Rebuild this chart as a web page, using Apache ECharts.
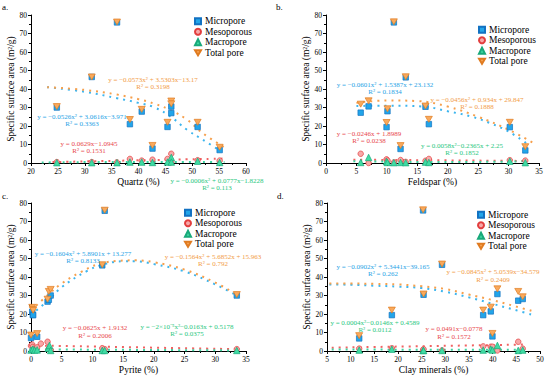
<!DOCTYPE html>
<html><head><meta charset="utf-8">
<script src="https://cdn.jsdelivr.net/npm/echarts@6/dist/echarts.min.js"></script>
<style>html,body{margin:0;padding:0;background:#fff}#c{width:550px;height:382px}</style>
</head><body><div id="c"></div>
<script>
// ---------- Panel a : Quartz ----------
const quartzX   = [24.8, 31.3, 36.0, 38.4, 40.6, 42.6, 45.4, 46.1, 46.1, 51.0, 55.1];
const quartzMicro = [30.0, 46.5, 76.0, 21.0, 27.8, 7.8, 19.5, 30.5, 27.0, 19.5, 7.0];
const quartzMeso  = [0.5, 0.5, 0.3, 2.2, 1.3, 1.8, 2.2, 5.0, 0.5, 1.5, 1.3];
const quartzMacro = [0.2, 0.2, 0.2, 0.5, 0.5, 0.3, 0.5, 3.0, 0.5, 1.0, 0.3];
const quartzTotal = [30.5, 46.5, 76.2, 23.5, 29.0, 9.5, 22.0, 33.5, 32.0, 22.0, 8.5];
const quartzFitMicroX = [23, 30, 36, 40, 43, 46, 49, 52, 55];
const quartzFitMicroY = [41, 38.5, 35, 32.5, 30, 25, 18, 12.5, 7];
const quartzFitTotalX = [23, 30, 36, 40, 43, 46, 49, 52, 56];
const quartzFitTotalY = [41, 39.5, 37, 34.5, 32, 28.5, 23.5, 16, 8.5];
const quartzFitMesoX = [24, 56];
const quartzFitMesoY = [0.5, 2.4];
const quartzFitMacroX = [22, 40, 56];
const quartzFitMacroY = [0.3, 0.6, 0.6];

// ---------- Panel b : Feldspar ----------
const feldX     = [5.7, 7.0, 9.95, 10.1, 11.15, 12.25, 13.1, 16.35, 16.9, 30.2, 32.75];
const feldMicro = [27.2, 30.6, 19.4, 28.0, 76.0, 7.6, 46.3, 30.4, 21.0, 19.4, 6.8];
const feldMeso  = [5.0, 0.0, 2.0, 1.3, 0.3, 1.6, 0.6, 1.2, 2.2, 1.5, 1.3];
const feldMacro = [0.3, 3.0, 0.8, 0.3, 0.2, 0.3, 0.2, 0.5, 0.3, 1.0, 0.2];
const feldTotal = [31.8, 33.6, 21.9, 29.3, 76.3, 9.4, 46.6, 30.8, 23.6, 22.0, 8.8];
const feldFitMicroX = [5, 10, 16, 20, 24, 27, 30, 33];
const feldFitMicroY = [30.8, 31, 30.5, 28, 25, 21.5, 17, 10.5];
const feldFitTotalX = [5, 10, 15, 20, 25, 30, 34];
const feldFitTotalY = [32.5, 33.8, 33.5, 30.5, 25, 18, 11];
const feldFitMesoX = [4.5, 33];
const feldFitMesoY = [1.8, 1.1];
const feldFitMacroX = [4.5, 15, 25, 33];
const feldFitMacroY = [1.0, 0.6, 0.6, 1.0];

// ---------- Panel c : Pyrite ----------
const pyrX     = [0.0, 0.2, 0.3, 0.35, 1.0, 2.7, 2.9, 3.2, 11.6, 12.0, 33.5];
const pyrMicro = [7.0, 21.2, 19.5, 19.4, 7.7, 26.7, 27.7, 30.0, 46.3, 75.8, 30.0];
const pyrTotal = [8.6, 23.6, 22.5, 22.0, 9.4, 28.0, 32.2, 33.3, 46.6, 76.1, 30.5];
const pyrMesoX = [0.0, 0.2, 0.3, 0.5, 1.0, 1.6, 2.7, 2.9, 3.2, 11.6, 12.0, 33.5];
const pyrMeso  = [2.8, 3.5, 2.2, 1.2, 2.0, 4.0, 5.0, 1.2, 0.5, 1.5, 1.0, 1.0];
const pyrMacroX = [0.0, 0.3, 0.6, 1.0, 2.8, 3.0, 3.2, 11.6, 12.0, 33.5];
const pyrMacro  = [0.5, 1.0, 0.5, 0.6, 1.5, 3.0, 0.3, 0.3, 0.3, 0.3];
const pyrFitMicroX = [0, 3, 5, 9, 12, 15, 17, 20, 25, 30, 33.5];
const pyrFitMicroY = [19.5, 28, 34.5, 43, 47, 48.5, 48.5, 47, 43, 36, 30];
const pyrFitTotalX = [0, 3, 5, 8, 11, 14, 17, 20, 25, 30, 33.5];
const pyrFitTotalY = [22, 31, 36.5, 42.5, 47, 48.7, 49, 48, 44, 37, 30.5];
const pyrFitMesoX = [0, 33.5];
const pyrFitMesoY = [3.0, 1.0];
const pyrFitMacroX = [0, 33.5];
const pyrFitMacroY = [0.9, 0.3];

// ---------- Panel d : Clay minerals ----------
const clayX     = [11.8, 18.7, 25.3, 25.4, 29.3, 38.0, 39.6, 39.95, 41.0, 45.4, 46.35];
const clayMicro = [6.8, 19.4, 76.0, 30.4, 46.6, 19.4, 21.4, 7.9, 30.8, 27.2, 28.1];
const clayMeso  = [1.3, 1.5, 0.5, 1.0, 0.3, 2.5, 2.3, 2.3, 0.3, 5.0, 1.3];
const clayMacro = [0.5, 1.0, 0.3, 0.3, 0.3, 0.5, 1.0, 0.5, 3.0, 0.3, 0.5];
const clayTotal = [8.3, 22.1, 76.3, 30.8, 47.0, 22.1, 23.7, 9.5, 33.6, 32.2, 29.3];
const clayFitMicroX = [5.5, 10, 15, 20, 25, 30, 35, 40, 45, 48.5];
const clayFitMicroY = [36, 35.8, 35.3, 34.8, 34, 32, 29, 25.5, 22, 19.5];
const clayFitTotalX = [5.5, 10, 15, 20, 25, 30, 35, 40, 45, 48.5];
const clayFitTotalY = [36.5, 36.5, 36.3, 36, 35, 33.5, 30.5, 27.5, 24, 21.5];
const clayFitMesoX = [6, 47];
const clayFitMesoY = [1.8, 3.5];
const clayFitMacroX = [6, 47];
const clayFitMacroY = [0.8, 0.6];

const legendNames = ['Micropore', 'Mesoporous', 'Macropore', 'Total pore'];
const yTicks = {min: 0, max: 80, interval: 10};

// ---------- styling ----------
const SERIF = 'Liberation Serif, Times New Roman, serif';
const C = {
  micro: {fill: '#22A5E9', stroke: '#1272C2', line: '#3DB5EE', text: '#1FA3E6'},
  meso:  {fill: '#F7A8A8', stroke: '#E23E3E', line: '#F06262', text: '#E8474C'},
  macro: {fill: '#40DBA3', stroke: '#18A97A', line: '#3CD3A0', text: '#27C77E'},
  total: {fill: '#F9A95C', stroke: '#E07B20', line: '#F6A04D', text: '#F29B45'}
};
const INV_TRI = 'path://M0,0L10,0L5,8.66Z';
const ICONS = {'Micropore': 'rect', 'Mesoporous': 'circle', 'Macropore': 'triangle', 'Total pore': INV_TRI};

const zip = (xs, ys) => xs.map((x, i) => [x, ys[i]]);

const grids = [
  {left: 31, top: 15, width: 215, height: 148},
  {left: 326, top: 15, width: 213, height: 148},
  {left: 31, top: 203, width: 215, height: 148},
  {left: 327, top: 203, width: 213, height: 148}
];
const xDefs = [
  {min: 20, max: 60, interval: 5, name: 'Quartz (%)'},
  {min: 0, max: 35, interval: 5, name: 'Feldspar (%)'},
  {min: 0, max: 35, interval: 5, name: 'Pyrite (%)'},
  {min: 5, max: 50, interval: 5, name: 'Clay minerals (%)'}
];

const axisCommon = {
  axisLine: {show: true, onZero: false, lineStyle: {color: '#000', width: 1}},
  axisTick: {show: true, inside: false, length: 3, lineStyle: {color: '#000'}},
  minorTick: {show: true, splitNumber: 2, length: 2, lineStyle: {color: '#000'}},
  splitLine: {show: false},
  axisLabel: {color: '#000', fontFamily: SERIF, fontSize: 7.5, margin: 4},
  nameTextStyle: {color: '#000', fontFamily: SERIF, fontSize: 9.5},
  nameLocation: 'middle'
};

const xAxis = xDefs.map((d, i) => Object.assign({}, axisCommon, {
  type: 'value', gridIndex: i, min: d.min, max: d.max, interval: d.interval,
  name: d.name, nameGap: 14
}));
const yAxis = grids.map((g, i) => Object.assign({}, axisCommon, {
  type: 'value', gridIndex: i, min: yTicks.min, max: yTicks.max, interval: yTicks.interval,
  name: 'Specific surface area (m²/g)', nameGap: 12,
  nameTextStyle: {color: '#000', fontFamily: SERIF, fontSize: 9.5}
}));

function scat(name, i, data, symbol, col, size) {
  return {
    type: 'scatter', name, xAxisIndex: i, yAxisIndex: i, data,
    symbol, symbolSize: size,
    itemStyle: {color: col.fill, borderColor: col.stroke, borderWidth: 0.7, opacity: 1},
    z: 3
  };
}
function fit(i, xs, ys, col, id) {
  return {
    type: 'line', name: id, xAxisIndex: i, yAxisIndex: i, data: zip(xs, ys),
    smooth: 0.4, showSymbol: false, symbol: 'none', silent: true,
    lineStyle: {color: col.line, width: 2, type: [2, 5]}, z: 2
  };
}

const panels = [
  {x: quartzX, micro: quartzMicro, total: quartzTotal, mesoX: quartzX, meso: quartzMeso, macroX: quartzX, macro: quartzMacro,
   fits: [[quartzFitMicroX, quartzFitMicroY, C.micro], [quartzFitTotalX, quartzFitTotalY, C.total], [quartzFitMesoX, quartzFitMesoY, C.meso], [quartzFitMacroX, quartzFitMacroY, C.macro]]},
  {x: feldX, micro: feldMicro, total: feldTotal, mesoX: feldX, meso: feldMeso, macroX: feldX, macro: feldMacro,
   fits: [[feldFitMicroX, feldFitMicroY, C.micro], [feldFitTotalX, feldFitTotalY, C.total], [feldFitMesoX, feldFitMesoY, C.meso], [feldFitMacroX, feldFitMacroY, C.macro]]},
  {x: pyrX, micro: pyrMicro, total: pyrTotal, mesoX: pyrMesoX, meso: pyrMeso, macroX: pyrMacroX, macro: pyrMacro,
   fits: [[pyrFitMicroX, pyrFitMicroY, C.micro], [pyrFitTotalX, pyrFitTotalY, C.total], [pyrFitMesoX, pyrFitMesoY, C.meso], [pyrFitMacroX, pyrFitMacroY, C.macro]]},
  {x: clayX, micro: clayMicro, total: clayTotal, mesoX: clayX, meso: clayMeso, macroX: clayX, macro: clayMacro,
   fits: [[clayFitMicroX, clayFitMicroY, C.micro], [clayFitTotalX, clayFitTotalY, C.total], [clayFitMesoX, clayFitMesoY, C.meso], [clayFitMacroX, clayFitMacroY, C.macro]]}
];

const series = [];
panels.forEach((p, i) => {
  p.fits.forEach((f, k) => series.push(fit(i, f[0], f[1], f[2], 'fit' + i + '_' + k)));
  series.push(scat('Micropore', i, zip(p.x, p.micro), 'rect', C.micro, 5.5));
  series.push(scat('Mesoporous', i, zip(p.mesoX, p.meso), 'circle', C.meso, 5.5));
  series.push(scat('Macropore', i, zip(p.macroX, p.macro), 'triangle', C.macro, 6.5));
  series.push(scat('Total pore', i, zip(p.x, p.total), INV_TRI, C.total, [7, 6]));
});

const legendPos = [[194, 16], [478, 24.5], [184, 207.5], [477, 209.5]];
const legend = legendPos.map(p => ({
  data: legendNames.map(n => ({name: n, icon: ICONS[n]})),
  orient: 'vertical', left: p[0], top: p[1],
  itemWidth: 6, itemHeight: 6, itemGap: 0, padding: 0, selectedMode: false,
  textStyle: {fontFamily: SERIF, fontSize: 9.5, color: '#000', lineHeight: 10.5, padding: [0, 0, 0, -1]}
}));

// equation annotations: [text, cx, cy, colour]
const eqs = [
  ['y = −0.0573x² + 3.5303x−13.17', 153, 80, C.total.text], ['R² = 0.3198', 153, 87, C.total.text],
  ['y = −0.0526x² + 3.0616x−3.971', 82, 117, C.micro.text], ['R² = 0.3363', 82, 124, C.micro.text],
  ['y = 0.0629x−1.0945', 89, 144, C.meso.text], ['R² = 0.1531', 89, 151, C.meso.text],
  ['y = −0.0006x² + 0.0777x−1.8228', 217, 180.5, C.macro.text], ['R² = 0.113', 217, 187.5, C.macro.text],

  ['y = −0.0601x² + 1.5387x + 23.132', 385, 84.5, C.micro.text], ['R² = 0.1834', 385, 91.5, C.micro.text],
  ['y = −0.0456x² + 0.934x + 29.847', 477, 99.5, C.total.text], ['R² = 0.1888', 477, 106.5, C.total.text],
  ['y = −0.0246x + 1.8989', 369, 134, C.meso.text], ['R² = 0.0238', 369, 141, C.meso.text],
  ['y = 0.0058x²−0.2365x + 2.25', 462, 146, C.macro.text], ['R² = 0.1852', 462, 153, C.macro.text],

  ['y = −0.1604x² + 5.8901x + 13.277', 83, 253.5, C.micro.text], ['R² = 0.8133', 83, 260.5, C.micro.text],
  ['y = −0.1564x² + 5.6852x + 15.963', 213, 257, C.total.text], ['R² = 0.792', 213, 264, C.total.text],
  ['y = −0.0625x + 1.9132', 95, 328, C.meso.text], ['R² = 0.2006', 95, 336, C.meso.text],
  ['y = −2×10⁻⁵x²−0.0163x + 0.5178', 187, 327, C.macro.text], ['R² = 0.0375', 187, 334, C.macro.text],

  ['y = −0.0902x² + 5.3441x−39.165', 383, 267, C.micro.text], ['R² = 0.262', 383, 274, C.micro.text],
  ['y = −0.0845x² + 5.0539x−34.579', 493, 272, C.total.text], ['R² = 0.2409', 493, 280, C.total.text],
  ['y = 0.0004x²−0.0146x + 0.4589', 375, 323, C.macro.text], ['R² = 0.0112', 375, 330, C.macro.text],
  ['y = 0.0491x−0.0778', 454, 329, C.meso.text], ['R² = 0.1572', 454, 337, C.meso.text]
];
const panelLabels = [['a.', 2, 7], ['b.', 276, 7], ['c.', 2, 196], ['d.', 277, 196]];

const graphic = eqs.map(e => ({
  type: 'text', x: e[1], y: e[2], z: 10, silent: true,
  style: {text: e[0], fill: e[3], font: '7px ' + SERIF, textAlign: 'center', textVerticalAlign: 'middle'}
})).concat(panelLabels.map(l => ({
  type: 'text', x: l[1], y: l[2], z: 10, silent: true,
  style: {text: l[0], fill: '#000', font: '9px ' + SERIF, textAlign: 'left', textVerticalAlign: 'middle'}
})));

const chart = echarts.init(document.getElementById('c'), null, {renderer: 'svg'});
chart.setOption({
  animation: false,
  backgroundColor: '#fff',
  grid: grids, xAxis, yAxis, series, legend, graphic
});
</script></body></html>
